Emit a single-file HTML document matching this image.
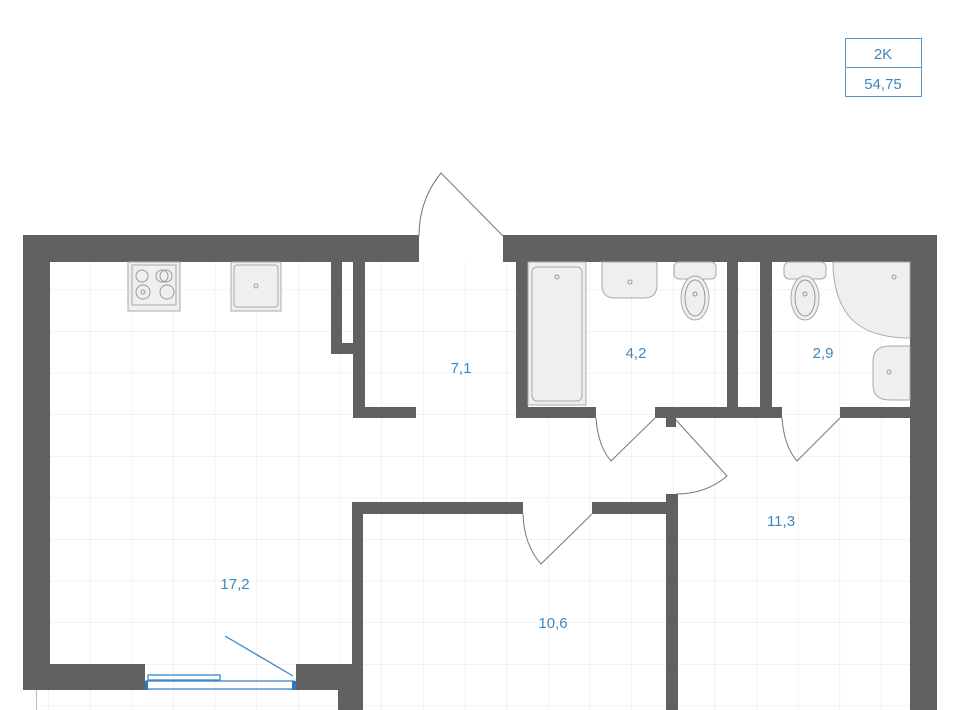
<!DOCTYPE html>
<html><head><meta charset="utf-8"><style>
html,body{margin:0;padding:0;background:#fff;width:960px;height:710px;overflow:hidden}
svg{display:block}
text{font-family:"Liberation Sans",sans-serif;fill:#3f86bd;font-size:15px;text-anchor:middle}
</style></head><body>
<svg width="960" height="710" viewBox="0 0 960 710" xmlns="http://www.w3.org/2000/svg">
<defs>
<pattern id="g" x="6.6" y="248" width="41.65" height="41.6" patternUnits="userSpaceOnUse">
<path d="M0 0H41.65M0 0V41.6" stroke="#e6e6e6" stroke-width="1" fill="none"/>
</pattern>
</defs>
<rect x="50" y="262" width="860" height="448" fill="url(#g)"/>
<rect x="36" y="690" width="316" height="20" fill="#fff"/>
<rect x="36" y="690" width="302" height="20" fill="url(#g)"/>
<path d="M36.5 690V710" stroke="#bbb"/>
<!-- walls -->
<g fill="#606261">
<rect x="23" y="235" width="396" height="27"/>
<rect x="503" y="235" width="434" height="27"/>
<rect x="23" y="235" width="27" height="455"/>
<rect x="910" y="235" width="27" height="475"/>
<rect x="23" y="664" width="122" height="26"/>
<rect x="296" y="664" width="67" height="26"/>
<rect x="338" y="690" width="25" height="20"/>
<rect x="352" y="502" width="11" height="162"/>
<rect x="352" y="502" width="171" height="12"/>
<rect x="592" y="502" width="86" height="12"/>
<rect x="666" y="494" width="12" height="216"/>
<rect x="666" y="418" width="10" height="9"/>
<!-- shaft -->
<rect x="331" y="262" width="11" height="92"/>
<rect x="331" y="343" width="22" height="11"/>
<rect x="353" y="262" width="12" height="156"/>
<rect x="353" y="407" width="63" height="11"/>
<!-- baths -->
<rect x="516" y="262" width="12" height="156"/>
<rect x="516" y="407" width="80" height="11"/>
<rect x="655" y="407" width="127" height="11"/>
<rect x="727" y="262" width="11" height="145"/>
<rect x="760" y="262" width="12" height="145"/>
<rect x="840" y="407" width="70" height="11"/>
</g>
<!-- doors -->
<g fill="none" stroke="#777" stroke-width="1">
<path d="M419 236 Q419 200 441 173 L503 236"/>
<path d="M596 418 Q598 446 611 461 L655 418"/>
<path d="M676 420 L727 476 Q706 494 676 494"/>
<path d="M782 418 Q784 446 797 461 L840 418"/>
<path d="M523 514 Q524 545 541 564 L592 514"/>
</g>
<!-- window -->
<g fill="none" stroke="#3a86c8" stroke-width="1.3">
<rect x="148" y="675" width="72" height="5"/>
<rect x="146" y="681" width="148" height="8"/>
<path d="M225 636 L293 676"/>
</g>
<rect x="145" y="681" width="3" height="9" fill="#2a78c0"/>
<rect x="292" y="681" width="4" height="9" fill="#2a78c0"/>
<!-- fixtures -->
<g fill="#efefef" stroke="#aaa" stroke-width="1">
<rect x="128" y="262" width="52" height="49"/>
<rect x="132" y="265" width="44" height="40"/>
<rect x="231" y="262" width="50" height="49"/>
<rect x="234" y="265" width="44" height="42" rx="3"/>
<rect x="528" y="262" width="58" height="143"/>
<rect x="532" y="267" width="50" height="134" rx="5"/>
<path d="M602 262 H657 V285 Q657 298 644 298 H615 Q602 298 602 285Z"/>
<rect x="674" y="262" width="42" height="17" rx="5"/>
<ellipse cx="695" cy="298" rx="14" ry="22"/>
<rect x="784" y="262" width="42" height="17" rx="5"/>
<ellipse cx="805" cy="298" rx="14" ry="22"/>
<path d="M833 262 H910 V338 Q866 338 848 315 Q833 295 833 262Z"/>
<path d="M910 346 V400 H890 Q873 400 873 385 V361 Q873 346 890 346Z"/>
</g>
<g fill="none" stroke="#999" stroke-width="1">
<circle cx="142" cy="276" r="6"/><circle cx="162" cy="276" r="6"/><circle cx="166" cy="276" r="6"/>
<circle cx="143" cy="292" r="7"/><circle cx="143" cy="292" r="2"/><circle cx="167" cy="292" r="7"/>
<circle cx="256" cy="286" r="2"/><circle cx="557" cy="277" r="2"/><circle cx="630" cy="282" r="2"/>
<circle cx="695" cy="294" r="2"/><circle cx="805" cy="294" r="2"/><circle cx="894" cy="277" r="2"/>
<circle cx="889" cy="372" r="2"/>
<ellipse cx="695" cy="298" rx="10" ry="18"/><ellipse cx="805" cy="298" rx="10" ry="18"/>
</g>
<!-- labels -->
<text x="461" y="373">7,1</text>
<text x="636" y="358">4,2</text>
<text x="823" y="358">2,9</text>
<text x="781" y="526">11,3</text>
<text x="235" y="589">17,2</text>
<text x="553" y="628">10,6</text>
<!-- badge -->
<rect x="845.5" y="38.5" width="76" height="58" fill="#fff" stroke="#5a96c8"/>
<path d="M845.5 67.5H921.5" stroke="#5a96c8"/>
<text x="883" y="59">2K</text>
<text x="883" y="89">54,75</text>
</svg>
</body></html>
